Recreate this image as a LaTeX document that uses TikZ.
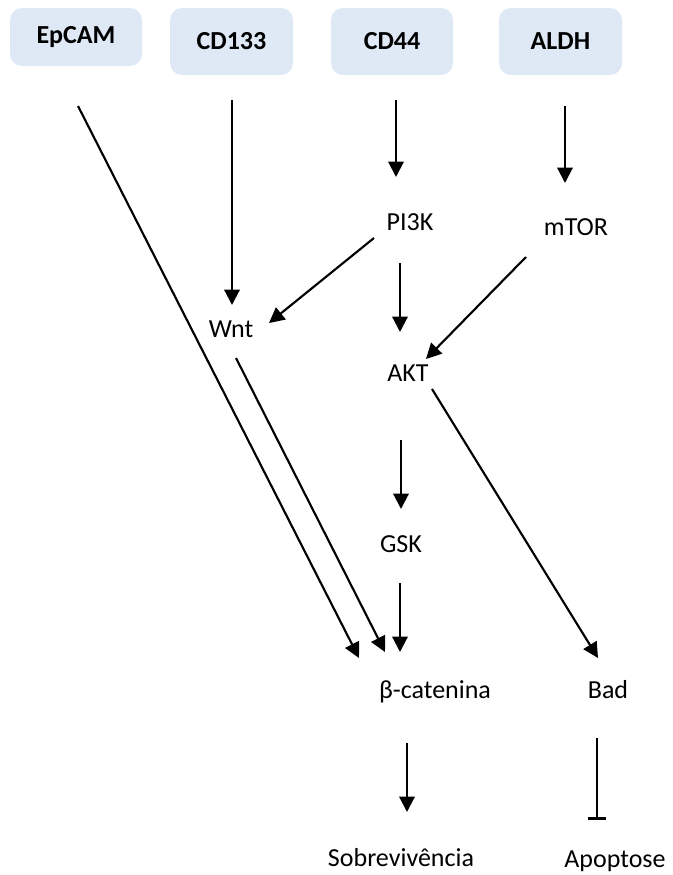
\documentclass[tikz,border=0pt]{standalone}
\usepackage{fontspec}
\setmainfont{Carlito}
\usetikzlibrary{arrows.meta,calc}

\definecolor{boxblue}{RGB}{222,233,245}
\tikzset{every picture/.style={line width=1.6pt}}
\tikzset{
	box/.style={fill=boxblue, rounded corners=9pt, inner sep=0pt, font=\fontsize{19.5}{23}\selectfont\bfseries},
	lbl/.style={inner sep=0pt, text height=12.6pt, text depth=0pt, font=\fontsize{19.5}{23}\selectfont},
	arr/.style={-{Triangle[length=11.5pt,width=11.5pt]}},
	inh/.style={-{Bar[width=13.5pt,line width=2.4pt]}}}

\begin{document}
\begin{tikzpicture}[x=0.75pt,y=0.75pt,yscale=-1,xscale=1]
	\useasboundingbox (0,0) rectangle (672,875);

	%Shape: Rounded Rectangles
	\node [box, minimum width=99pt, minimum height=43.5pt] (epcam) at (76,37) {EpCAM};
	\node [box, minimum width=92.25pt, minimum height=50.25pt] (cd133) at (231.5,41.5) {CD133};
	\node [box, minimum width=91.5pt, minimum height=50.25pt] (cd44) at (392,41.5) {CD44};
	\node [box, minimum width=92.25pt, minimum height=50.25pt] (aldh) at (560.5,41.5) {ALDH};

	% Text Node
	\node [lbl] (pik) at (410,222) {PI3K};
	\node [lbl] (mtor) at (576,227) {mTOR};
	\node [lbl] (wnt) at (231,329) {Wnt};
	\node [lbl] (akt) at (408,373) {AKT};
	\node [lbl] (gsk) at (401,544) {GSK};
	\node [lbl] (bcat) at (435,690) {β-catenina};
	\node [lbl] (bad) at (608,690) {Bad};
	\node [lbl] (surv) at (401,858) {Sobrevivência};
	\node [lbl] (apop) at (615,859) {Apoptose};

	%Straight Lines
	\draw [arr] ($(epcam)+(2,69)$) -- ($(bcat)+(-76,-32)$);
	\draw [arr] ($(cd133)+(0.5,58.5)$) -- ($(wnt)+(1,-24)$);
	\draw [arr] ($(cd44)+(4,58.5)$) -- ($(pik)+(-14,-45)$);
	\draw [arr] ($(aldh)+(4.5,64.5)$) -- ($(mtor)+(-11,-44)$);
	\draw [arr] ($(pik)+(-36,16)$) -- ($(wnt)+(38,-6)$);
	\draw [arr] ($(pik)+(-10,41)$) -- ($(akt)+(-8,-41)$);
	\draw [arr] ($(mtor)+(-50,30)$) -- ($(akt)+(18,-14)$);
	\draw [arr] ($(wnt)+(5,29)$) -- ($(bcat)+(-50,-38)$);
	\draw [arr] ($(akt)+(-7,67)$) -- ($(gsk)+(0,-35)$);
	\draw [arr] ($(akt)+(24,16)$) -- ($(bad)+(-10,-32)$);
	\draw [arr] ($(gsk)+(-1,39)$) -- ($(bcat)+(-35,-38)$);
	\draw [arr] ($(bcat)+(-28,53)$) -- ($(surv)+(6,-46)$);
	\draw [inh] ($(bad)+(-11,48)$) -- ($(apop)+(-18,-39)$);

\end{tikzpicture}
\end{document}
